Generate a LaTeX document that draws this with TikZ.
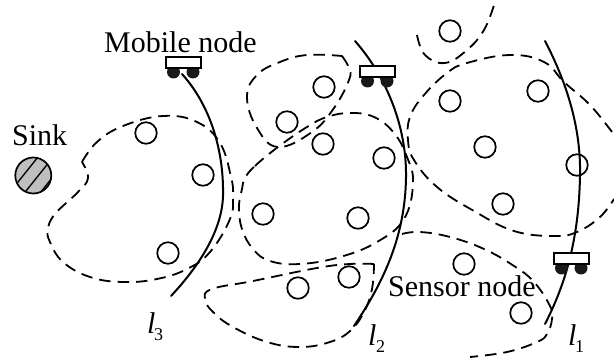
\documentclass[tikz,border=0pt]{standalone}
\usepackage{fontspec}
\setmainfont{Liberation Serif}
\begin{document}
\begin{tikzpicture}[x=1pt,y=-1pt,
  lab/.style={inner sep=0pt,anchor=base west,font=\fontsize{30}{32}\selectfont},
  sublab/.style={inner sep=0pt,anchor=base west,font=\fontsize{18}{20}\selectfont},
  sensor/.style={circle,draw=black,line width=1.7pt,minimum size=21.5pt,inner sep=0pt},
  robotpath/.style={line width=2pt,line cap=round},
  region/.style={line width=1.8pt,dash pattern=on 11.5pt off 7pt},
  body/.style={draw=black,fill=white,line width=1.8pt},
  wheel/.style={circle,fill=black!90,inner sep=0pt,minimum size=13pt},
  hatch/.style={line width=1.4pt}]
\useasboundingbox (0,0) rectangle (614,358);
% dashed regions
\draw[region] plot[smooth,tension=0.7] coordinates {(82,162)(97,142)(123,126)(163,116)(197,122)(220,143)(231,177)(233,196)(230,219)(210,252)(187,269)(157,279)(123,282)(90,277)(63,262)(50,242)(48,229)(55,214)(78,192)(88,178)(82,162)};
\draw[region] plot[smooth cycle,tension=0.7] coordinates {(245,178)(255,166)(278,147)(307,127)(327,117)(350,113)(374,117)(394,133)(407,157)(413,183)(404,219)(377,242)(340,257)(300,264)(270,261)(253,249)(242,229)(239,207)(242,189)};
\draw[region] plot[smooth,tension=0.7] coordinates {(342,56)(349,68)(349,80)(334,108)(312,132)(278,147)(257,128)(247,97)(257,75)(280,62)(307,55)(342,56)};
\draw[region] plot[smooth,tension=0.7] coordinates {(417,35)(425,55)(445,63)(467,50)(484,30)(494,5)};
\draw[region] plot[smooth,tension=0.7] coordinates {(612,132)(590,105)(564,82)(544,62)(510,55)(467,63)(447,73)(424,95)(410,117)(408,140)(414,160)(437,187)(474,211)(514,231)(554,236)(577,232)(600,217)(614,199)};
\draw[region] plot[smooth,tension=0.7] coordinates {(374,264)(350,264)(317,268)(253,281)(212,289)(205,299)(213,312)(233,327)(267,342)(300,347)(330,342)(350,331)(364,312)(372,289)(374,264)};
\draw[region] plot[smooth,tension=0.7] coordinates {(402,234)(420,232)(450,237)(484,249)(514,266)(534,282)(550,306)(552,319)(547,334)(537,342)(507,352)(470,357)};
% robot paths
\draw[robotpath] (182,74) .. controls (210,105) and (224,150) .. (223,196) .. controls (222,230) and (200,265) .. (171,296);
\draw[robotpath] (355,41) .. controls (385,75) and (407,125) .. (406,178) .. controls (405,235) and (385,280) .. (354,326);
\draw[robotpath] (545,41) .. controls (568,85) and (581,130) .. (580,175) .. controls (579,240) and (565,285) .. (545,324);
% sensors
\foreach \n/\x/\y in {a/146/133,b/203/175,c/168/253,d/263/214,e/298/288,f/287/122,g/450/31,h/324/87,i/450/101,j/538/91,k/323/144,m/384/158,o/485/147,p/577/165,q/358/218,r/349/277,s/503/204,t/464/264,u/521/313}
  \node[sensor] (sensor\n) at (\x,\y) {};
% sink
\node[circle,fill=black!25,minimum size=36pt,inner sep=0pt] (sink) at (33.3,175.5) {};
\begin{scope}
  \clip (33.3,175.5) circle (18pt);
  \draw[hatch] (10,192) -- (42,152);
  \draw[hatch] (22,196) -- (54,156);
  \draw[hatch] (36,198) -- (56,173);
\end{scope}
\draw[line width=1.7pt] (33.3,175.5) circle (18pt);
% mobile nodes
\foreach \n/\x/\y in {a/166/57,b/360/66,c/554/253}{
  \node[wheel] (wheel\n1) at (\x+7.5,\y+15) {};
  \node[wheel] (wheel\n2) at (\x+27,\y+15) {};
  \draw[body] (\x,\y) rectangle (\x+35,\y+11);
}
% labels
\node[lab] (mobile) at (104,53) {Mobile node};
\node[lab] (sinklab) at (12,146) {Sink};
\node[lab] (sensorlab) at (388,297) {Sensor node};
\node[lab] (l3) at (147,334) {\itshape l};
\node[sublab] (l3s) at (154,341) {3};
\node[lab] (l2) at (368,346) {\itshape l};
\node[sublab] (l2s) at (376,353) {2};
\node[lab] (l1) at (568,346) {\itshape l};
\node[sublab] (l1s) at (575,353) {1};
\end{tikzpicture}
\end{document}
